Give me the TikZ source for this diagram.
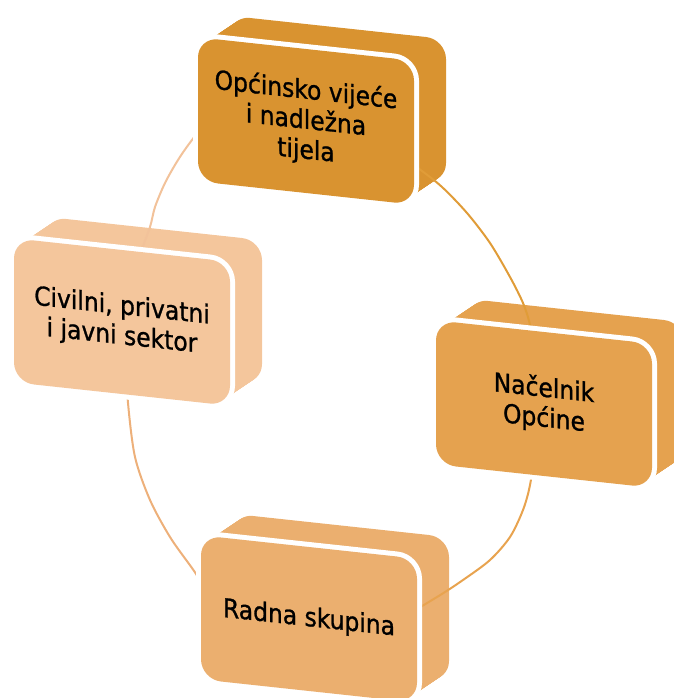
\documentclass[tikz,border=0pt]{standalone}
\usepackage{fontspec}
\setmainfont{DejaVu Sans}[FakeStretch=0.9, FakeBold=1]
\definecolor{cTop}{HTML}{D99330}
\definecolor{cRight}{HTML}{E5A24F}
\definecolor{cBottom}{HTML}{EBAF6F}
\definecolor{cLeft}{HTML}{F4C69C}
\definecolor{arcTL}{HTML}{F2C29A}
\definecolor{arcBL}{HTML}{EDB07A}
\definecolor{arcTR}{HTML}{E09C38}
\definecolor{arcBR}{HTML}{E8A34F}
\tikzset{
  boxtext/.style={align=center, font=\fontsize{26}{30}\selectfont, text=black, transform shape, inner sep=0pt},
  ringline/.style={line width=2pt}
}
\begin{document}
\begin{tikzpicture}[x=1pt,y=-1pt]
\useasboundingbox (0,0) rectangle (673,698);
% extruded bodies
\foreach \cx/\cy/\col in {306/121/cTop, 122/322/cLeft, 544/404/cRight, 309/619/cBottom}{
  \begin{scope}[cm={1,-0.108,0,1,(\cx,\cy)}]
    \foreach \k in {0,...,32}{
      \fill[\col, rounded corners=20pt] (-108+\k,-72-0.78*\k) rectangle (108+\k,72-0.78*\k);
    }
  \end{scope}
}
% ring
\foreach \ax/\ay/\bx/\by/\col in {0/0/307/322/arcTL, 0/322/309/698/arcBL, 307/0/673/404/arcTR, 309/404/673/698/arcBR}{
  \begin{scope}
    \clip (\ax,\ay) rectangle (\bx,\by);
    \draw[\col, ringline] plot[smooth cycle, tension=0.5] coordinates {
      (192,140) (215,112) (250,95) (290,92) (330,105) (370,133) (418,168)
      (442,187) (467,213) (490,243) (510,277) (523,303) (530,325) (537,365)
      (539,405) (536,445) (530,485) (523,510) (510,537) (490,560) (463,580)
      (437,597) (400,618) (350,637) (300,643) (255,630) (215,600) (192,568)
      (170,537) (150,500) (135,457) (128,403) (126,360) (129,300) (139,258)
      (150,227) (155,207) (165,183) (178,160)};
  \end{scope}
}
% front faces
\foreach \cx/\cy/\col/\nm/\txt in {306/121/cTop/nTop/{Općinsko vijeće\\i nadležna\\tijela},
  122/322/cLeft/nLeft/{Civilni, privatni\\i javni sektor},
  544/404/cRight/nRight/{Načelnik\\Općine},
  309/619/cBottom/nBottom/{Radna skupina}}{
  \begin{scope}[cm={1,-0.108,0,1,(\cx,\cy)}]
    \draw[white, line width=10pt, rounded corners=20pt] (-108,-72) rectangle (108,72);
    \fill[\col, rounded corners=20pt] (-108,-72) rectangle (108,72);
    \node[boxtext] (\nm) at (0,0) {\txt};
  \end{scope}
}
\end{tikzpicture}
\end{document}
